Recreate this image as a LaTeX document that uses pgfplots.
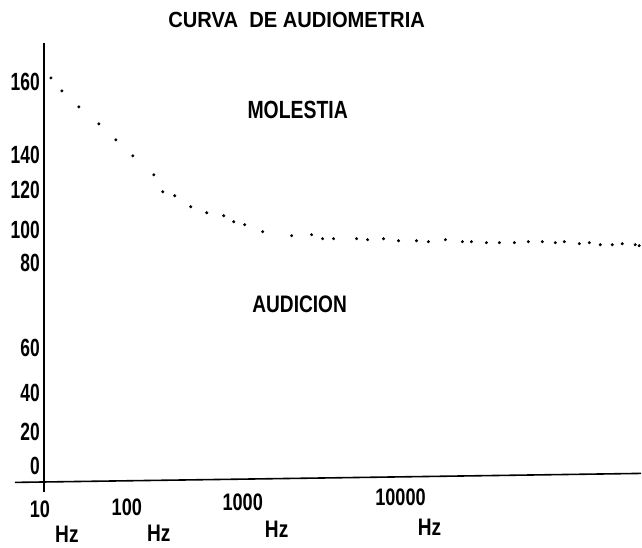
\documentclass[border=0pt]{standalone}
\usepackage{pgfplots}
\pgfplotsset{compat=1.18}
\usepackage{fontspec}
\setmainfont{Liberation Sans}
\usepackage{graphicx}
\newcommand\sq[3]{\scalebox{#1}[1]{\fontsize{#2}{#2}\selectfont\bfseries #3}}
\begin{document}
\begin{tikzpicture}
\begin{axis}[
  scale only axis, width=598bp, height=439bp,
  xmin=0, xmax=598, ymin=0, ymax=439,
  clip=false,
  axis line style={draw=none},
  major tick length=0pt,
  tick style={draw=none},
  ytick={400,327,292,252,219,134,89,50,15},
  yticklabels={\sq{0.7}{25}{160},\sq{0.7}{25}{140},\sq{0.7}{25}{120},\sq{0.7}{25}{100},\sq{0.7}{25}{80},\sq{0.7}{25}{60},\sq{0.7}{25}{40},\sq{0.7}{25}{20},\sq{0.7}{25}{0}},
  yticklabel style={anchor=east, inner sep=0pt, xshift=-4bp},
  xtick={0,83,199,357},
  xticklabels={\raisebox{-36bp}{\hspace*{-8bp}\sq{0.76}{24}{10}},\raisebox{-34bp}{\sq{0.76}{24}{100}},\raisebox{-29bp}{\sq{0.76}{24}{1000}},\raisebox{-24bp}{\sq{0.76}{24}{10000}}},
  xticklabel style={anchor=base, inner sep=0pt, yshift=0pt},
]
% invisible frame for full picture size
\addplot[draw=none] coordinates {(-44,-66) (598,482)};
% axis lines
\addplot[black, line width=1.6bp] coordinates {(0,-11) (0,439)};
\addplot[black, line width=1.6bp] coordinates {(-29,-1) (598,8)};
% curve
\addplot[only marks, mark=*, mark size=1.3bp, black] coordinates {
(7,404) (18,391) (35,375) (55,358) (72,342) (89,326) (110,307) (119,290)
(131,286) (147,275) (163,269) (180,266) (190,260) (201,257) (219,250)
(248,246) (268,247) (279,243) (290,243) (313,243) (324,242) (340,243)
(355,241) (373,241) (385,240) (402,242) (419,240) (428,240) (443,239)
(456,239) (471,239) (485,240) (499,240) (512,239) (521,240) (536,238)
(546,239) (557,237) (569,237) (579,238) (592,237) (596,236)
};
\node at (axis cs:253,462) {\sq{0.92}{22}{CURVA\ \ DE AUDIOMETRIA}};
\node at (axis cs:254,372) {\sq{0.78}{25}{MOLESTIA}};
\node at (axis cs:256,177) {\sq{0.8}{24}{AUDICION}};
\node at (axis cs:23,-53) {\sq{0.8}{24}{Hz}};
\node at (axis cs:115,-52) {\sq{0.8}{24}{Hz}};
\node at (axis cs:233,-48) {\sq{0.8}{24}{Hz}};
\node at (axis cs:386,-46) {\sq{0.8}{24}{Hz}};
\end{axis}
\end{tikzpicture}
\end{document}
